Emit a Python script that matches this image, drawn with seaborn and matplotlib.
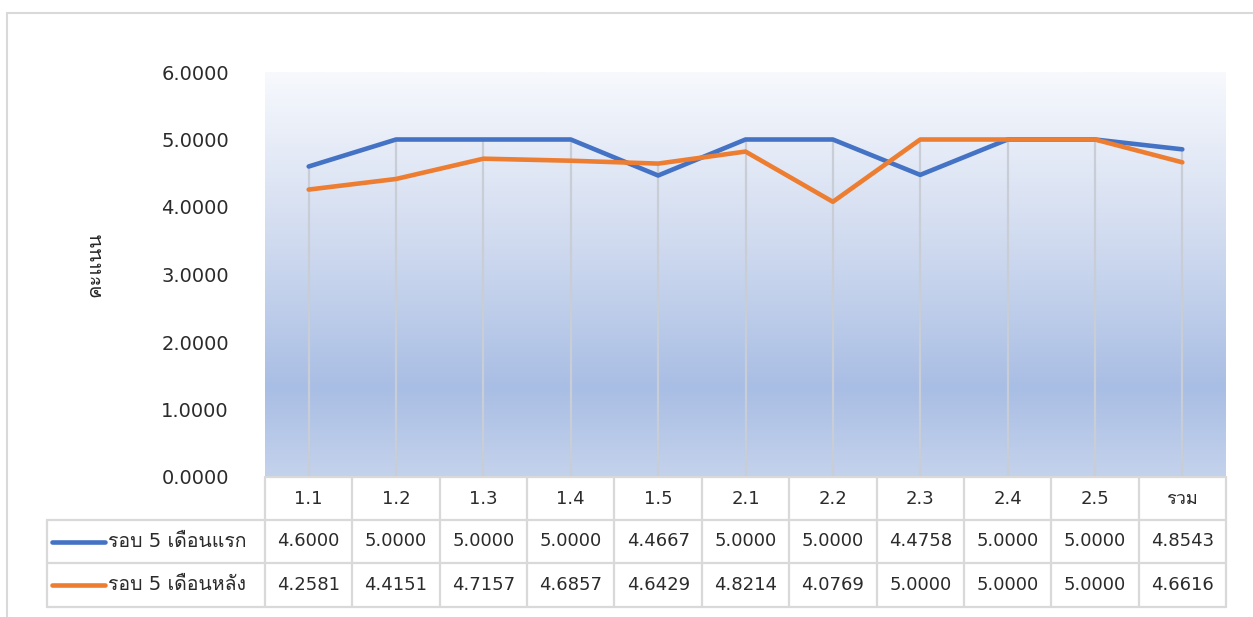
import numpy as np
import pandas as pd
import matplotlib
matplotlib.use("Agg")
import matplotlib.pyplot as plt
import matplotlib.transforms as mtransforms
from matplotlib import font_manager
from matplotlib.ft2font import FT2Font
from matplotlib.colors import LinearSegmentedColormap
from matplotlib.patches import Rectangle
from matplotlib.lines import Line2D
import seaborn as sns

# data
categories = ['1.1', '1.2', '1.3', '1.4', '1.5', '2.1', '2.2', '2.3', '2.4', '2.5', 'รวม']
first_5 = [4.6000, 5.0000, 5.0000, 5.0000, 4.4667, 5.0000, 5.0000, 4.4758, 5.0000, 5.0000, 4.8543]
last_5 = [4.2581, 4.4151, 4.7157, 4.6857, 4.6429, 4.8214, 4.0769, 5.0000, 5.0000, 5.0000, 4.6616]
series_names = ['รอบ 5 เดือนแรก', 'รอบ 5 เดือนหลัง']
y_label = 'คะแนน'
y_ticks = [0, 1, 2, 3, 4, 5, 6]

colors = ['#4472C4', '#ED7D31']


def find_thai_font():
    for f in font_manager.fontManager.ttflist:
        try:
            if FT2Font(f.fname).get_char_index(0x0E23):
                return f.name
        except Exception:
            pass
    return None


sns.set_theme(style='white')
thai = find_thai_font()
fams = ['DejaVu Sans'] + ([thai] if thai else [])
plt.rcParams['font.family'] = fams

df = pd.DataFrame({
    'cat': categories * 2,
    'x': list(range(len(categories))) * 2,
    'value': first_5 + last_5,
    'series': [series_names[0]] * len(categories) + [series_names[1]] * len(categories),
})

W, H = 1253, 617
fig = plt.figure(figsize=(W / 100, H / 100), dpi=100)
fig.patch.set_facecolor('white')

# chart border
fig.patches.append(Rectangle((7 / W, -0.1), 1.2, 1 - 13 / H + 0.1, transform=fig.transFigure,
                             fill=False, edgecolor='#D9D9D9', linewidth=1.5))

left, right, top, bottom = 265, 1226, 72, 477
ax = fig.add_axes([left / W, 1 - bottom / H, (right - left) / W, (bottom - top) / H])

n = len(categories)
ax.set_xlim(-0.5, n - 0.5)
ax.set_ylim(0, 6)

# gradient background
cmap = LinearSegmentedColormap.from_list('bg', [(0.0, '#C4D2EC'), (0.22, '#A9BEE4'),
                                                (0.6, '#D2DCF0'), (1.0, '#F7F9FD')])
grad = np.linspace(0, 1, 256).reshape(-1, 1)
ax.imshow(grad, extent=(-0.5, n - 0.5, 0, 6), origin='lower', aspect='auto', cmap=cmap, zorder=0)

# drop lines
xs = np.arange(n)
ax.vlines(xs, 0, np.maximum(first_5, last_5), colors='#C9CED6', linewidth=1.6, zorder=1)

sns.lineplot(data=df, x='x', y='value', hue='series', palette=colors, linewidth=3.3,
             ax=ax, legend=False, zorder=3)
for l in ax.lines:
    l.set_solid_joinstyle('round')
    l.set_solid_capstyle('round')

for s in ax.spines.values():
    s.set_visible(False)
ax.set_xticks([])
ax.set_yticks(y_ticks)
ax.set_yticklabels([f'{v:.4f}' for v in y_ticks], fontsize=14, color='#2B2B2B')
ax.tick_params(axis='y', length=0, pad=26)
ax.set_xlabel('')
ax.set_ylabel('')

fig.text(95 / W, 1 - 264 / H, y_label, rotation=90, ha='center', va='center',
         fontsize=14.5, color='#262626')

# data table
ph = bottom - top
pw = right - left
def fy(py):
    return (bottom - py) / ph
def fx(px):
    return (px - left) / pw

rows = [477, 520, 563, 607]
trans = mtransforms.blended_transform_factory(ax.transData, ax.transAxes)
grid_kw = dict(color='#D9D9D9', linewidth=1.6, clip_on=False)

# horizontal lines
ax.plot([-0.5, n - 0.5], [fy(rows[0])] * 2, transform=trans, **grid_kw)
for py in rows[1:]:
    ax.plot([fx(47), 1.0], [fy(py)] * 2, transform=ax.transAxes, **grid_kw)
# vertical lines
for k in range(n + 1):
    ax.plot([k - 0.5, k - 0.5], [fy(rows[0]), fy(rows[3])], transform=trans, **grid_kw)
ax.plot([fx(47)] * 2, [fy(rows[1]), fy(rows[3])], transform=ax.transAxes, **grid_kw)

txt_kw = dict(ha='center', va='center', fontsize=13, color='#2B2B2B', transform=trans, clip_on=False)
for i, c in enumerate(categories):
    ax.text(i, fy((rows[0] + rows[1]) / 2), c, **txt_kw)
for r, vals in enumerate([first_5, last_5]):
    yc = fy((rows[r + 1] + rows[r + 2]) / 2)
    for i, v in enumerate(vals):
        ax.text(i, yc, f'{v:.4f}', **txt_kw)
    ax.add_line(Line2D([fx(52), fx(105)], [yc, yc], transform=ax.transAxes, color=colors[r],
                       linewidth=3.3, solid_capstyle='round', clip_on=False))
    ax.text(fx(108), yc, series_names[r], ha='left', va='center', fontsize=14, color='#2B2B2B',
            transform=ax.transAxes, clip_on=False)

fig.savefig('out.png', dpi=100)
